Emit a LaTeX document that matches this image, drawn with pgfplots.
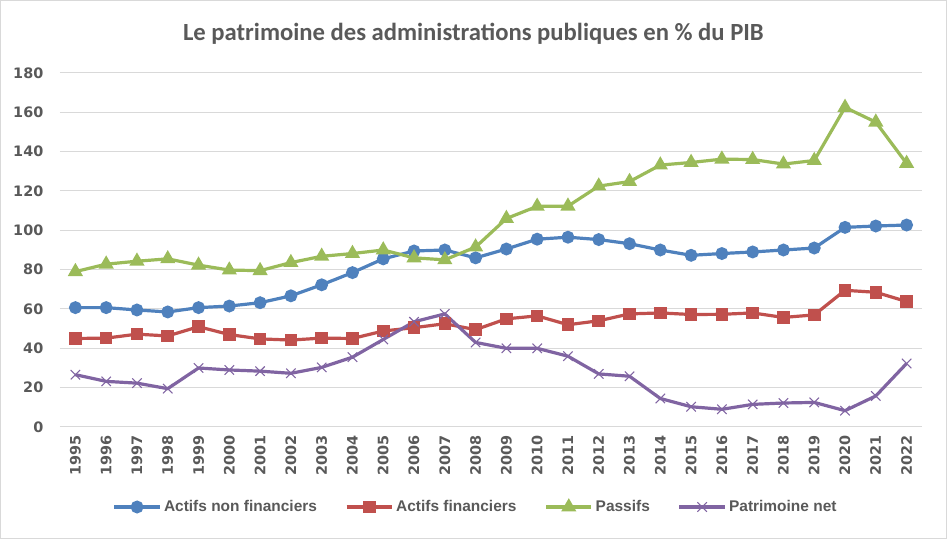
\documentclass[border=0pt]{standalone}
\usepackage{pgfplots}
\usepackage{pgfplotstable}
\pgfplotsset{compat=1.18}
\usepackage{fontspec}
\setmainfont{Carlito}
\newfontfamily\tickfont{DejaVu Sans}
\newfontfamily\legfont{Liberation Sans}
\definecolor{cblue}{HTML}{4F81BD}
\definecolor{cred}{HTML}{C0504D}
\definecolor{cgreen}{HTML}{9BBB59}
\definecolor{cpurple}{HTML}{8064A2}
\definecolor{tgray}{HTML}{595959}
\definecolor{ggray}{HTML}{D9D9D9}

\pgfplotstableread{
year anf af pas pn
1995 60.7 45.0 79.0 26.6
1996 60.7 45.2 82.8 23.2
1997 59.5 47.2 84.3 22.3
1998 58.5 46.3 85.5 19.5
1999 60.7 51.0 82.3 30.0
2000 61.5 47.0 79.8 29.0
2001 63.2 44.8 79.5 28.4
2002 66.7 44.2 83.6 27.3
2003 72.3 45.2 86.8 30.3
2004 78.5 45.0 88.2 35.5
2005 85.5 48.8 90.0 44.5
2006 89.5 50.5 86.0 53.5
2007 90.0 52.5 85.0 57.5
2008 86.0 49.5 91.5 43.0
2009 90.5 55.0 106.0 40.0
2010 95.5 56.5 112.2 40.0
2011 96.5 52.0 112.3 36.0
2012 95.3 54.0 122.5 27.0
2013 93.2 57.5 124.8 25.8
2014 90.0 58.0 133.2 14.5
2015 87.3 57.2 134.5 10.3
2016 88.2 57.3 136.2 9.0
2017 89.0 58.0 136.0 11.5
2018 90.0 55.7 133.7 12.2
2019 91.0 57.0 135.5 12.5
2020 101.5 69.5 162.5 8.3
2021 102.2 68.5 155.0 15.8
2022 102.7 63.8 134.0 32.3
}\data

\begin{document}
\begin{tikzpicture}
\useasboundingbox (0,0) rectangle (710.25pt,404.25pt);
\draw[color=ggray, line width=0.75pt] (0.4pt,0.4pt) rectangle (709.85pt,403.85pt);
\node[font=\bfseries\fontsize{18.5}{20}\selectfont, text=tgray] at (355pt,379pt) {Le patrimoine des administrations publiques en \% du PIB};
\begin{axis}[
  at={(45pt,84pt)}, anchor=south west,
  scale only axis, width=646.5pt, height=265.5pt,
  xmin=1994.5, xmax=2022.5, ymin=0, ymax=180,
  ytick={0,20,...,180},
  xtick={1995,...,2022},
  xticklabels={1995,1996,1997,1998,1999,2000,2001,2002,2003,2004,2005,2006,2007,2008,2009,2010,2011,2012,2013,2014,2015,2016,2017,2018,2019,2020,2021,2022},
  axis line style={draw=none},
  major tick length=0pt,
  ymajorgrids, grid style={ggray, line width=0.75pt},
  /pgf/number format/assume math mode=true,
  tick label style={font=\tickfont\bfseries\fontsize{10.8}{12}\selectfont, text=tgray},
  xticklabel style={rotate=90, anchor=east, xshift=-3pt},
  yticklabel style={anchor=east, xshift=-9pt},
  legend columns=4,
  legend style={at={(0.4826,-0.226)}, anchor=center, draw=none, fill=none,
    font=\legfont\bfseries\fontsize{11.6}{13}\selectfont, text=tgray,
    /tikz/every even column/.append style={column sep=19pt}},
  legend cell align=left,
  legend image code/.code={\draw[mark repeat=2,mark phase=2] plot coordinates {(0pt,0pt) (17pt,0pt) (34pt,0pt)};},
  every axis plot/.append style={line width=2.4pt},
  clip=false,
]
\addplot[cblue, mark=*, mark size=3.6pt, mark options={solid}] table[x=year,y=anf] {\data};
\addlegendentry{Actifs non financiers}
\addplot[cred, mark=square*, mark size=3.5pt] table[x=year,y=af] {\data};
\addlegendentry{Actifs financiers}
\addplot[cgreen, mark=triangle*, mark size=4.2pt] table[x=year,y=pas] {\data};
\addlegendentry{Passifs}
\addplot[cpurple, mark=x, mark size=5pt, mark options={line width=0.8pt}] table[x=year,y=pn] {\data};
\addlegendentry{Patrimoine net}
\end{axis}
\end{tikzpicture}
\end{document}
